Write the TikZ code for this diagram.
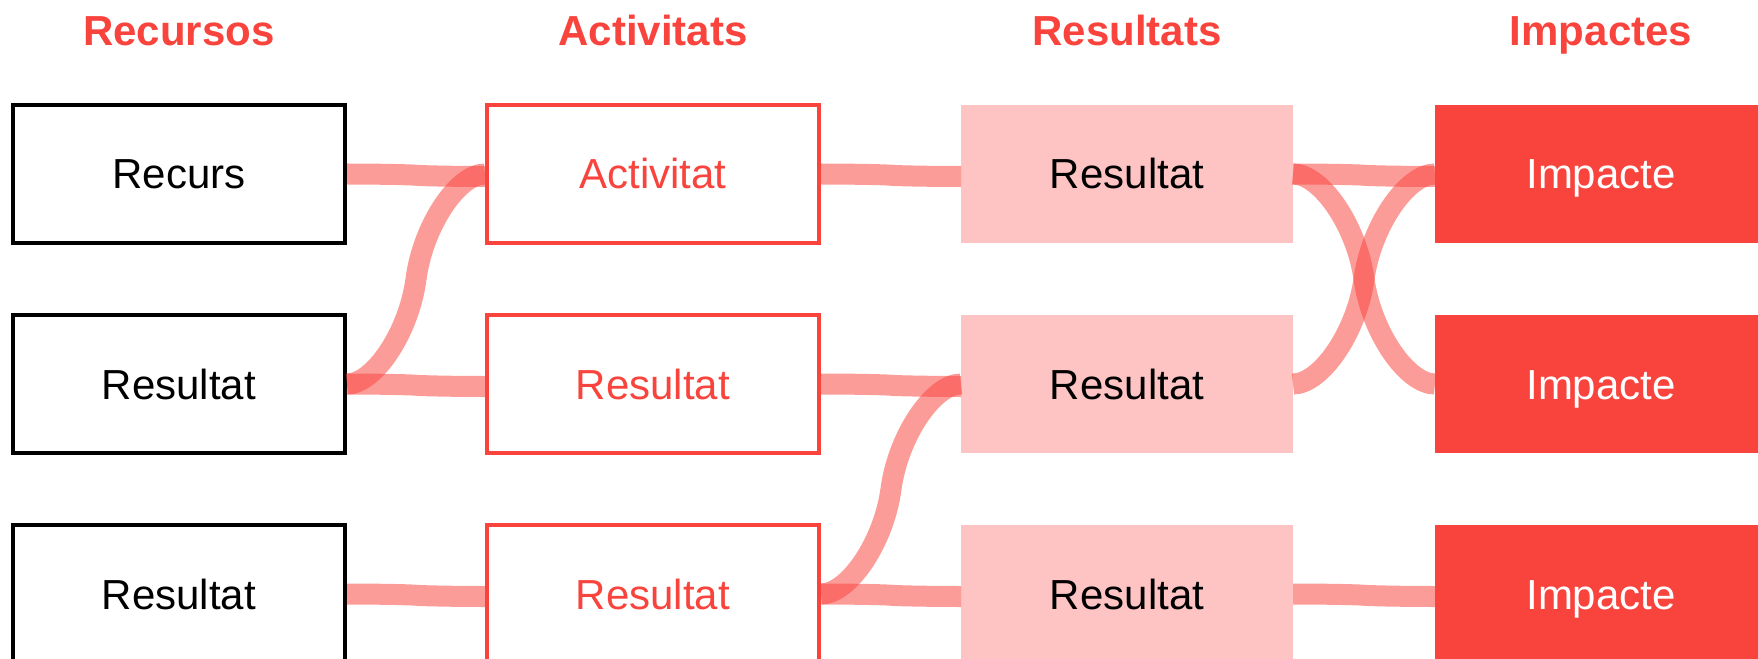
\documentclass[tikz,border=0pt]{standalone}
\usepackage{fontspec}
\setmainfont{Liberation Sans}
\usetikzlibrary{calc}
\definecolor{imp}{HTML}{F9443D}
\definecolor{pinkbox}{HTML}{FEC4C3}
\tikzset{
 basebox/.style={minimum width=249pt, minimum height=103.5pt, inner sep=0pt, text height=22.5pt, text depth=0pt, font=\fontsize{31.5}{36}\selectfont},
 resbox/.style={basebox, draw=black, line width=3pt, fill=white, outer sep=1.5pt},
 actbox/.style={basebox, draw=imp, line width=3pt, fill=white, text=imp, outer sep=1.5pt},
 outbox/.style={basebox, fill=pinkbox, outer sep=0pt},
 impbox/.style={basebox, fill=imp, text=white, outer sep=0pt},
 header/.style={text=imp, font=\fontsize{31.5}{36}\selectfont\bfseries, anchor=base, inner sep=0pt},
 flow/.style={draw=imp, draw opacity=0.53, line width=15.75pt},
}
% sigmoid band from #1 to #2
\newcommand\sankeylink[2]{%
 \draw[flow] let \p1=(#1), \p2=(#2), \p4=($(#2)-(#1)$) in
 (\p1) .. controls (\x1+0.2*\x4,\y1) and (\x1+0.45*\x4,\y1+0.25*\y4) ..
 (\x1+0.5*\x4,\y1+0.5*\y4) .. controls (\x1+0.55*\x4,\y1+0.75*\y4) and (\x2-0.2*\x4,\y2) .. (\p2);}
\begin{document}
\begin{tikzpicture}[x=0.75pt, y=-0.75pt]
\useasboundingbox (0,0) rectangle (1758,659);
\clip (0,0) rectangle (1758,659);
% headers
\node[header] (h1) at (179,46) {Recursos};
\node[header] (h2) at (653,46) {Activitats};
\node[header] (h3) at (1127,46) {Resultats};
\node[header] (h4) at (1601,46) {Impactes};
% column 1
\node[resbox] (r1) at (179,174) {Recurs};
\node[resbox] (r2) at (179,384) {Resultat};
\node[resbox] (r3) at (179,594) {Resultat};
% column 2
\node[actbox] (a1) at (653,174) {Activitat};
\node[actbox] (a2) at (653,384) {Resultat};
\node[actbox] (a3) at (653,594) {Resultat};
% column 3
\node[outbox] (o1) at (1127,174) {Resultat};
\node[outbox] (o2) at (1127,384) {Resultat};
\node[outbox] (o3) at (1127,594) {Resultat};
% column 4
\node[impbox] (i1) at (1601,174) {Impacte};
\node[impbox] (i2) at (1601,384) {Impacte};
\node[impbox] (i3) at (1601,594) {Impacte};
% end points of the bands
\coordinate (a1in) at ($(a1.west)+(0,2.5)$);
\coordinate (a2in) at ($(a2.west)+(0,2.5)$);
\coordinate (a3in) at ($(a3.west)+(0,2.5)$);
\coordinate (o1in) at ($(o1.west)+(0,2.5)$);
\coordinate (o2in) at ($(o2.west)+(0,2.5)$);
\coordinate (o3in) at ($(o3.west)+(0,2.5)$);
\coordinate (i1in) at ($(i1.west)+(0,2.5)$);
\coordinate (i3in) at ($(i3.west)+(0,2.5)$);
% flows
\sankeylink{r1.east}{a1in}
\sankeylink{r2.east}{a1.west}
\sankeylink{r2.east}{a2in}
\sankeylink{r3.east}{a3in}
\sankeylink{a1.east}{o1in}
\sankeylink{a2.east}{o2in}
\sankeylink{a3.east}{o2.west}
\sankeylink{a3.east}{o3in}
\sankeylink{o1.east}{i1in}
\sankeylink{o1.east}{i2.west}
\sankeylink{o2.east}{i1.west}
\sankeylink{o3.east}{i3in}
\end{tikzpicture}
\end{document}
